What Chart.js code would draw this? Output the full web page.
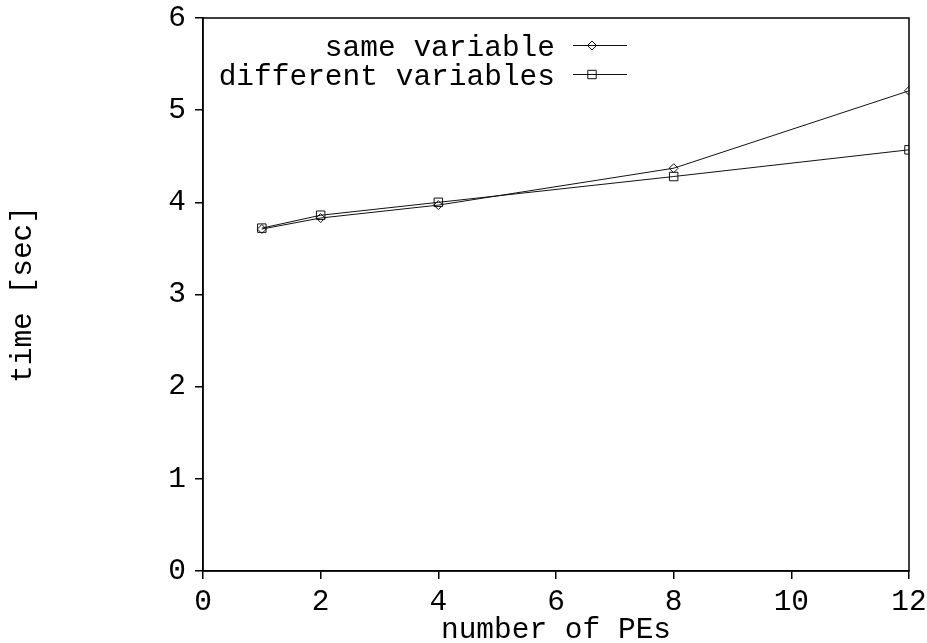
<!DOCTYPE html>
<html>
<head>
<meta charset="utf-8">
<script src="https://cdn.jsdelivr.net/npm/chart.js@4"></script>
<style>
  html, body { margin: 0; padding: 0; background: #fff; }
  canvas { display: block; }
</style>
</head>
<body>
<canvas id="chart" width="927" height="643"></canvas>
<script>
// data
const peCounts = [1, 2, 4, 8, 12];
const sameVariable = [3.71, 3.83, 3.97, 4.37, 5.21];
const differentVariables = [3.72, 3.86, 4.00, 4.28, 4.57];
const seriesLabels = ['same variable', 'different variables'];
const xTicks = [0, 2, 4, 6, 8, 10, 12];
const yTicks = [0, 1, 2, 3, 4, 5, 6];

const FONT = '"Liberation Mono", "Courier New", monospace';
const FONT_SIZE = 29.5;

// gnuplot-like box around the plot area
const framePlugin = {
  id: 'frame',
  afterDraw(chart) {
    const { ctx, chartArea: a } = chart;
    ctx.save();
    ctx.strokeStyle = '#000';
    ctx.lineWidth = 1.5;
    ctx.strokeRect(a.left, a.top, a.right - a.left, a.bottom - a.top);
    ctx.restore();
  }
};

// legend in the top-left: text right-aligned, then line sample with marker
const legendPlugin = {
  id: 'gnuLegend',
  afterDraw(chart) {
    const ctx = chart.ctx;
    ctx.save();
    ctx.font = `${FONT_SIZE}px ${FONT}`;
    ctx.fillStyle = '#000';
    ctx.textAlign = 'right';
    ctx.textBaseline = 'alphabetic';
    chart.data.datasets.forEach((ds, i) => {
      const y = 45.5 + i * 29;
      ctx.fillText(ds.label, 555, y + 10);
      ctx.strokeStyle = '#111';
      ctx.lineWidth = 1;
      ctx.beginPath();
      ctx.moveTo(573, y);
      ctx.lineTo(627, y);
      ctx.stroke();
      ctx.beginPath();
      if (ds.pointStyle === 'rectRot') {
        const r = 4.5;
        ctx.moveTo(592 - r, y); ctx.lineTo(592, y - r);
        ctx.lineTo(592 + r, y); ctx.lineTo(592, y + r);
        ctx.closePath();
      } else {
        const h = 4.2;
        ctx.rect(592 - h, y - h, 2 * h, 2 * h);
      }
      ctx.stroke();
    });
    ctx.restore();
  }
};

const tickFont = { family: FONT, size: FONT_SIZE };

new Chart(document.getElementById('chart'), {
  type: 'line',
  data: {
    datasets: [
      {
        label: seriesLabels[0],
        data: peCounts.map((x, i) => ({ x, y: sameVariable[i] })),
        borderColor: '#111',
        borderWidth: 1,
        pointStyle: 'rectRot',
        pointRadius: 4.5,
        pointBorderColor: '#111',
        pointBackgroundColor: 'rgba(0,0,0,0)',
        pointBorderWidth: 1,
        tension: 0,
      },
      {
        label: seriesLabels[1],
        data: peCounts.map((x, i) => ({ x, y: differentVariables[i] })),
        borderColor: '#111',
        borderWidth: 1,
        pointStyle: 'rect',
        pointRadius: 6,
        pointBorderColor: '#111',
        pointBackgroundColor: 'rgba(0,0,0,0)',
        pointBorderWidth: 1,
        tension: 0,
      },
    ],
  },
  options: {
    responsive: false,
    animation: false,
    devicePixelRatio: 1,
    events: [],
    layout: { padding: { top: 18, right: 18, left: 0, bottom: 0 } },
    plugins: { legend: { display: false }, tooltip: { enabled: false } },
    scales: {
      x: {
        type: 'linear',
        min: 0,
        max: 12,
        afterBuildTicks: s => { s.ticks = xTicks.map(v => ({ value: v })); },
        afterFit: s => { s.height = 72; s.paddingLeft = 0; s.paddingRight = 0; },
        ticks: { color: '#000', font: tickFont, padding: 5, maxRotation: 0, autoSkip: false },
        grid: { drawOnChartArea: false, drawTicks: true, tickLength: 8, color: '#000', lineWidth: 1.5 },
        border: { display: true, color: '#000', width: 1.5 },
        title: {
          display: true,
          text: 'number of PEs',
          color: '#000',
          font: { family: FONT, size: FONT_SIZE, lineHeight: 1 },
          padding: { top: 0, bottom: -2 },
        },
      },
      y: {
        type: 'linear',
        min: 0,
        max: 6,
        afterBuildTicks: s => { s.ticks = yTicks.map(v => ({ value: v })); },
        afterFit: s => { s.width = 203; s.paddingTop = 0; s.paddingBottom = 0; },
        ticks: { color: '#000', font: tickFont, padding: 9 },
        grid: { drawOnChartArea: false, drawTicks: true, tickLength: 8, color: '#000', lineWidth: 1.5 },
        border: { display: true, color: '#000', width: 1.5 },
        title: {
          display: true,
          text: 'time [sec]',
          color: '#000',
          font: { family: FONT, size: FONT_SIZE, lineHeight: 1 },
          padding: { top: 8, bottom: 0 },
        },
      },
    },
  },
  plugins: [framePlugin, legendPlugin],
});
</script>
</body>
</html>
